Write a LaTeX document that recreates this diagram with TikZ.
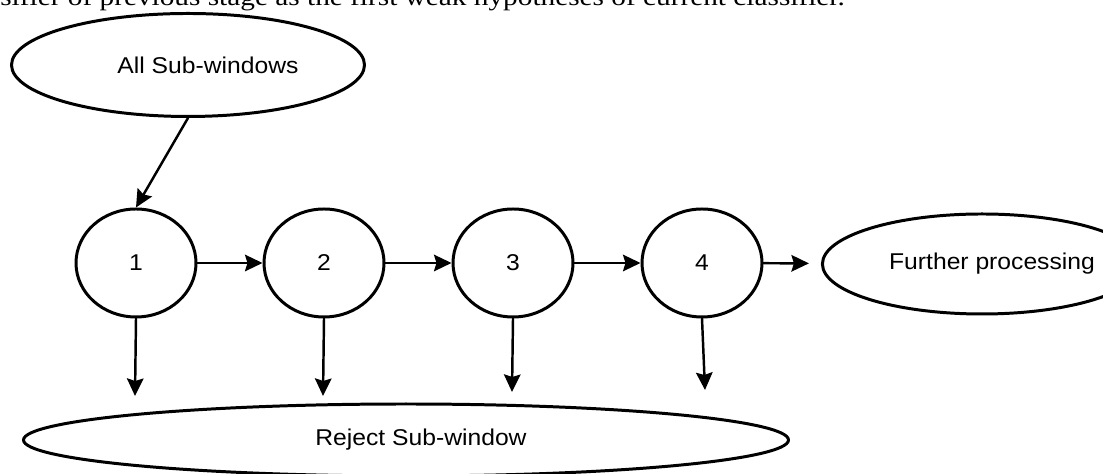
\documentclass[tikz,border=0pt]{standalone}
\usepackage{fontspec}
\setmainfont[FakeStretch=1.08]{Liberation Sans}
\newfontfamily\bodyserif[FakeStretch=1.17]{Liberation Serif}
\usetikzlibrary{shapes.geometric,arrows.meta}

\begin{document}
\begin{tikzpicture}[line cap=round,line join=round,
  stage/.style={ellipse,draw,line width=1.7pt,inner sep=0pt,
    minimum width=2.40cm,minimum height=2.16cm,font=\fontsize{13}{15}\selectfont},
  oval/.style={ellipse,draw,line width=1.7pt,inner sep=0pt,
    font=\fontsize{13}{15}\selectfont},
  flow/.style={line width=1.4pt,-{Stealth[length=0.35cm,width=0.33cm,inset=0.05cm]}}]
  \useasboundingbox (0,0) rectangle (22.06,9.48);
  \clip (0,0) rectangle (22.06,9.48);
  % tail of the paragraph above
  \node[anchor=base west,inner sep=0pt,font=\bodyserif\fontsize{14.25}{16}\selectfont]
    (para) at (0,9.37) {sifier of previous stage as the first weak hypotheses of current classifier.};
  % input and outputs
  \node[oval,minimum width=7.06cm,minimum height=2.06cm] (all) at (3.76,8.18) {\hspace*{0.8cm}All Sub-windows};
  \node[oval,minimum width=4.72cm,minimum height=2.00cm] (further) at (19.64,4.20) {\hspace*{0.4cm}Further processing};
  \node[oval,minimum width=15.30cm,minimum height=1.44cm] (reject) at (8.12,0.68) {\hspace*{0.6cm}Reject Sub-window};
  % cascade stages
  \node[stage] (s1) at (2.72,4.22) {\raisebox{-0.1cm}{1}};
  \node[stage] (s2) at (6.48,4.22) {2};
  \node[stage] (s3) at (10.26,4.22) {3};
  \node[stage] (s4) at (14.04,4.22) {4};
  % ends of the reject arrows
  \coordinate (r1) at (2.70,1.56);
  \coordinate (r2) at (6.46,1.56);
  \coordinate (r3) at (10.24,1.64);
  \coordinate (r4) at (14.10,1.68);
  \draw[flow] (all.south) -- (s1.north);
  \draw[flow] (s1) -- (s2);
  \draw[flow] (s2) -- (s3);
  \draw[flow] (s3) -- (s4);
  \draw[flow,shorten >=0.24cm] (s4) -- (further);
  \draw[flow] (s1.south) -- (r1);
  \draw[flow] (s2.south) -- (r2);
  \draw[flow] (s3.south) -- (r3);
  \draw[flow] (s4.south) -- (r4);
\end{tikzpicture}
\end{document}
